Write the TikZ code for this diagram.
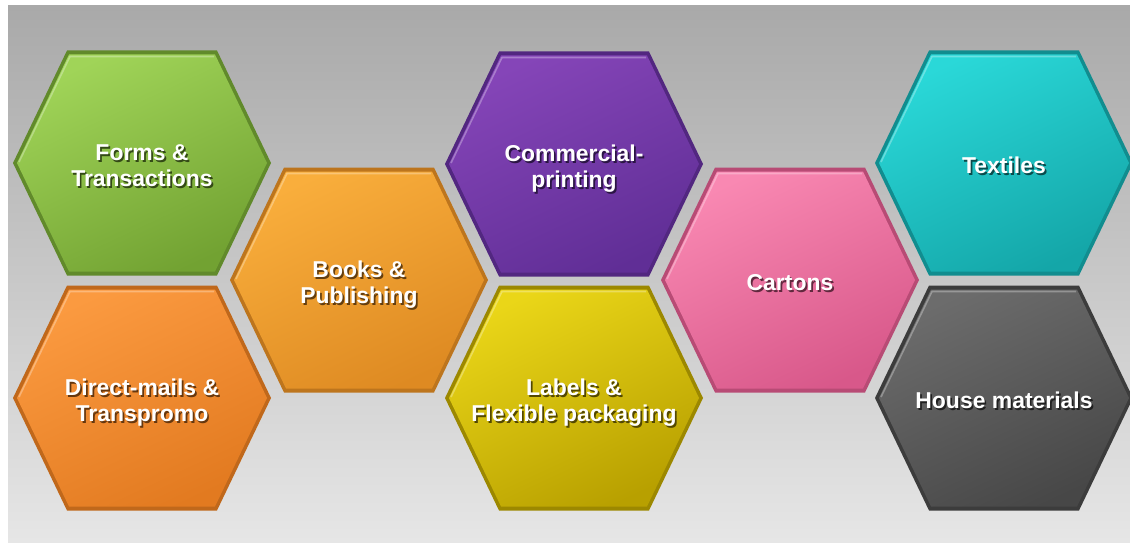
\documentclass[tikz,border=0pt]{standalone}
\usepackage{fontspec}
\setmainfont{Liberation Sans}
\definecolor{bgtop}{HTML}{A9A9A9}
\definecolor{bgbot}{HTML}{E6E6E6}
\definecolor{grL}{HTML}{A0D458}\definecolor{grD}{HTML}{72A232}
\definecolor{orL}{HTML}{FB9A40}\definecolor{orD}{HTML}{E27A20}
\definecolor{bkL}{HTML}{F9AE3C}\definecolor{bkD}{HTML}{DE8A22}
\definecolor{puL}{HTML}{8545B8}\definecolor{puD}{HTML}{602E96}
\definecolor{yeL}{HTML}{EAD618}\definecolor{yeD}{HTML}{B8A000}
\definecolor{piL}{HTML}{F988B2}\definecolor{piD}{HTML}{D8588A}
\definecolor{cyL}{HTML}{2AD8D8}\definecolor{cyD}{HTML}{14A6A8}
\definecolor{gyL}{HTML}{6C6C6C}\definecolor{gyD}{HTML}{474747}
\newcommand\tabc[1]{\begin{tabular}{@{}c@{}}#1\end{tabular}}
\newcommand\shtext[2]{\makebox[0pt][l]{\raisebox{-1.6pt}{\hspace{1.3pt}\color{#1}\tabc{#2}}}\tabc{#2}}
\newcommand\hexcell[6]{%
 \begin{scope}[shift={(#2,#3)}]
  \fill[#5!85!black] (-129,0) -- (-75,-112.5) -- (75,-112.5) -- (129,0) -- (75,112.5) -- (-75,112.5) -- cycle;
  \shade[top color=#4, bottom color=#5, middle color=#4!50!#5, shading angle=25]
    (-125,0) -- (-73,-108.5) -- (73,-108.5) -- (125,0) -- (73,108.5) -- (-73,108.5) -- cycle;
  \draw[white, opacity=.3, line width=1.2pt, line join=round] (-123,-1) -- (-72,-106.5) -- (72,-106.5);
  \node[celltext] (#1) at (0,6.5) {\shtext{#5!45!black}{#6}};
 \end{scope}}
\tikzset{celltext/.style={text=white, inner sep=0pt,
  font=\fontsize{17.2}{19.6}\selectfont\bfseries}}
\begin{document}
\begin{tikzpicture}[x=0.75pt,y=-0.75pt]
\useasboundingbox (0,0) rectangle (1130,542);
\fill[white] (0,0) rectangle (1130,542);
\shade[top color=bgtop, bottom color=bgbot] (8,6) rectangle (1130,542);
\hexcell{forms}{142}{163}{grL}{grD}{Forms \&\\Transactions}
\hexcell{direct}{142}{398}{orL}{orD}{Direct-mails \&\\Transpromo}
\hexcell{books}{359}{280}{bkL}{bkD}{Books \&\\Publishing}
\hexcell{commercial}{574}{164}{puL}{puD}{Commercial-\\printing}
\hexcell{labels}{574}{398}{yeL}{yeD}{Labels \&\\Flexible packaging}
\hexcell{cartons}{790}{280}{piL}{piD}{Cartons}
\hexcell{textiles}{1004}{163}{cyL}{cyD}{Textiles}
\hexcell{house}{1004}{398}{gyL}{gyD}{House materials}
\end{tikzpicture}
\end{document}
